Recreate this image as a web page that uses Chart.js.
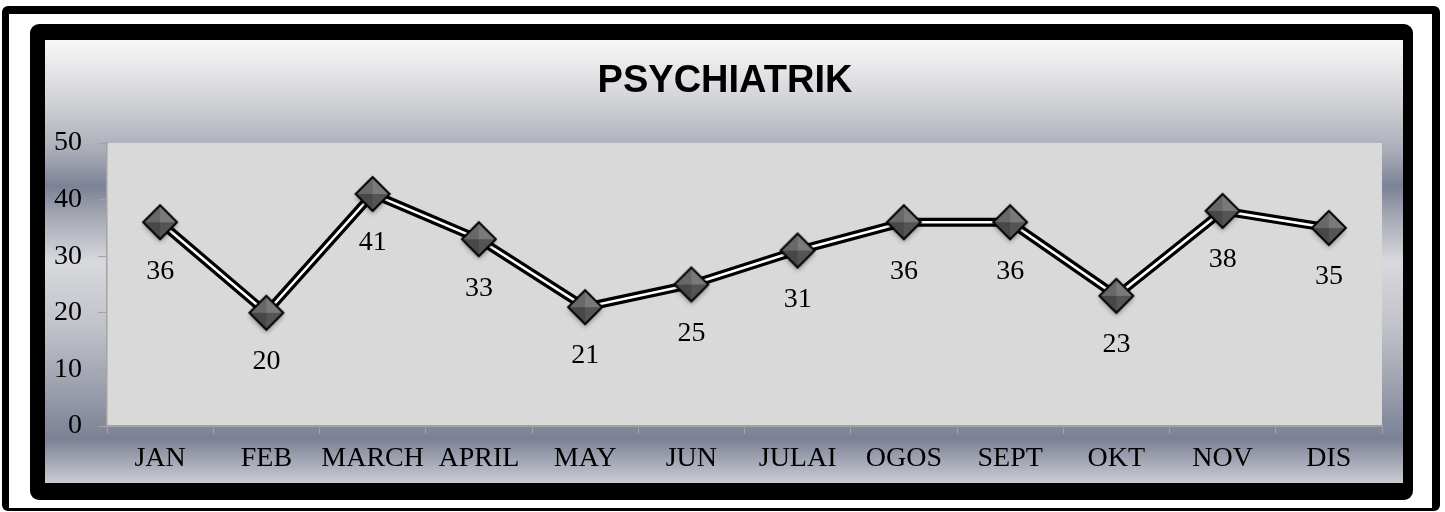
<!DOCTYPE html>
<html>
<head>
<meta charset="utf-8">
<script src="https://cdn.jsdelivr.net/npm/chart.js@4.4.1/dist/chart.umd.min.js"></script>
<style>
  html, body { margin: 0; padding: 0; background: #fff; }
  #wrap { width: 1445px; height: 512px; }
</style>
</head>
<body>
<div id="wrap"><canvas id="psyChart" width="1445" height="512"></canvas></div>
<script>
// Chart data
const chartTitle = 'PSYCHIATRIK';
const months = ['JAN', 'FEB', 'MARCH', 'APRIL', 'MAY', 'JUN', 'JULAI', 'OGOS', 'SEPT', 'OKT', 'NOV', 'DIS'];
const patients = [36, 20, 41, 33, 21, 25, 31, 36, 36, 23, 38, 35];
const yMin = 0;
const yMax = 50;
const yStep = 10;

const serif = "'Liberation Serif', 'Times New Roman', serif";
const axisGray = '#a3a3a3';

// diamond marker with pyramid shading and a soft shadow
function makeDiamond() {
    const c = document.createElement('canvas');
    c.width = 52; c.height = 52;
    const g = c.getContext('2d');
    const cx = 26, cy = 26, r = 17;
    g.save();
    g.shadowColor = 'rgba(0,0,0,0.35)';
    g.shadowBlur = 5;
    g.shadowOffsetY = 3;
    g.beginPath();
    g.moveTo(cx, cy - r); g.lineTo(cx + r, cy); g.lineTo(cx, cy + r); g.lineTo(cx - r, cy); g.closePath();
    g.fillStyle = '#555';
    g.fill();
    g.restore();
    const facets = [
        [[cx, cy - r], [cx + r, cy], '#7a7a7a'],
        [[cx + r, cy], [cx, cy + r], '#555555'],
        [[cx, cy + r], [cx - r, cy], '#484848'],
        [[cx - r, cy], [cx, cy - r], '#686868']
    ];
    facets.forEach(f => {
        g.beginPath();
        g.moveTo(cx, cy); g.lineTo(f[0][0], f[0][1]); g.lineTo(f[1][0], f[1][1]); g.closePath();
        g.fillStyle = f[2];
        g.fill();
    });
    g.beginPath();
    g.moveTo(cx, cy - r); g.lineTo(cx + r, cy); g.lineTo(cx, cy + r); g.lineTo(cx - r, cy); g.closePath();
    g.lineWidth = 2;
    g.strokeStyle = '#000';
    g.stroke();
    return c;
}

const framePlugin = {
    id: 'frame',
    beforeDraw(chart) {
        const ctx = chart.ctx;
        const W = chart.width, H = chart.height;
        ctx.save();
        ctx.fillStyle = '#fff';
        ctx.fillRect(0, 0, W, H);
        // outer frame
        ctx.fillStyle = '#000';
        ctx.beginPath();
        ctx.roundRect(2, 6, 1438, 505, 6);
        ctx.fill();
        ctx.fillStyle = '#fff';
        ctx.fillRect(9, 14, 1423, 494);
        // thick inner frame
        ctx.fillStyle = '#000';
        ctx.beginPath();
        ctx.roundRect(30, 24, 1383, 476, 9);
        ctx.fill();
        // metallic background
        const grad = ctx.createLinearGradient(0, 40, 0, 483);
        grad.addColorStop(0, '#f8f8f8');
        grad.addColorStop(0.135, '#d2d3d7');
        grad.addColorStop(0.25, '#aaadb8');
        grad.addColorStop(0.33, '#7c8296');
        grad.addColorStop(0.40, '#a6a9b4');
        grad.addColorStop(0.50, '#d8d9dd');
        grad.addColorStop(0.65, '#c0c2c9');
        grad.addColorStop(0.81, '#9599a8');
        grad.addColorStop(0.90, '#7b8195');
        grad.addColorStop(1, '#cbccd2');
        ctx.fillStyle = grad;
        ctx.fillRect(45, 40, 1358, 443);
        // plot area
        const a = chart.chartArea;
        ctx.fillStyle = '#d9d9d9';
        ctx.fillRect(a.left, a.top, a.right - a.left, a.bottom - a.top);
        ctx.restore();
    }
};

const valueLabels = {
    id: 'valueLabels',
    afterDatasetsDraw(chart) {
        const ctx = chart.ctx;
        const meta = chart.getDatasetMeta(2);
        ctx.save();
        ctx.font = '28px ' + serif;
        ctx.fillStyle = '#000';
        ctx.textAlign = 'center';
        ctx.textBaseline = 'middle';
        meta.data.forEach((pt, i) => {
            ctx.fillText(String(patients[i]), pt.x, pt.y + 49);
        });
        ctx.restore();
    }
};

const diamond = makeDiamond();

new Chart(document.getElementById('psyChart'), {
    type: 'line',
    data: {
        labels: months,
        datasets: [{
            data: patients,
            borderColor: '#000',
            borderWidth: 9,
            pointRadius: 0,
            tension: 0,
            order: 3
        }, {
            data: patients,
            borderColor: '#fff',
            borderWidth: 2.5,
            pointRadius: 0,
            tension: 0,
            order: 2
        }, {
            data: patients,
            showLine: false,
            pointStyle: diamond,
            pointRadius: 18,
            order: 1
        }]
    },
    options: {
        responsive: false,
        animation: false,
        layout: {
            padding: { left: 45, right: 40, top: 40, bottom: 29 }
        },
        plugins: {
            legend: { display: false },
            tooltip: { enabled: false },
            title: {
                display: true,
                text: chartTitle,
                color: '#000',
                font: { family: "'Liberation Sans', Arial, sans-serif", size: 38, weight: 'bold' },
                padding: { top: 19, bottom: 38.4 }
            }
        },
        scales: {
            x: {
                offset: true,
                grid: { drawOnChartArea: false, offset: true, tickLength: 8, color: axisGray },
                border: { color: axisGray, width: 2 },
                ticks: {
                    autoSkip: false,
                    maxRotation: 0,
                    padding: 8,
                    color: '#000',
                    font: { family: serif, size: 28 }
                },
                afterFit(scale) { scale.height = 57; }
            },
            y: {
                min: yMin,
                max: yMax,
                grid: { drawOnChartArea: false, tickLength: 9, color: axisGray },
                border: { color: axisGray, width: 1.5 },
                ticks: {
                    stepSize: yStep,
                    padding: 16,
                    color: '#000',
                    font: { family: serif, size: 28 }
                },
                afterFit(scale) { scale.width = 62; }
            },
            // empty right-hand spacer so the title centres like the original
            yRight: {
                position: 'right',
                min: yMin,
                max: yMax,
                grid: { display: false },
                border: { display: false },
                ticks: { display: false },
                afterFit(scale) { scale.width = 23; }
            }
        }
    },
    plugins: [framePlugin, valueLabels]
});
</script>
</body>
</html>
